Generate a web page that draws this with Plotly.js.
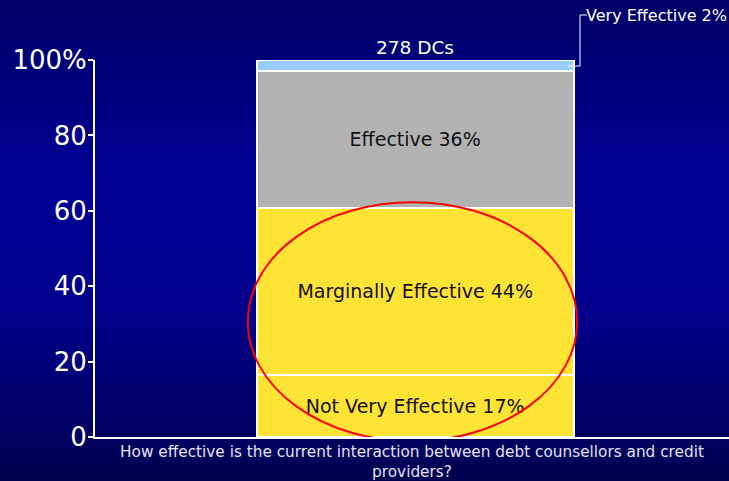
<!DOCTYPE html>
<html>
<head>
<meta charset="utf-8">
<script src="https://cdn.plot.ly/plotly-3.0.1.min.js"></script>
<style>
html,body{margin:0;padding:0;}
body{width:729px;height:481px;background:linear-gradient(to bottom,#000068 0%,#000096 38%,#00008c 65%,#000050 100%);overflow:hidden;}
#chart{width:729px;height:481px;}
</style>
</head>
<body>
<div id="chart"></div>
<script>
const category = ['All'];
const segments = ['Not Very Effective', 'Marginally Effective', 'Effective', 'Very Effective'];
const values = [16.5, 44.3, 36.3, 2.9];
const pctLabels = [17, 44, 36, 2];
const colors = ['#FFE335', '#FFE335', '#B2B2B2', '#99CCFF'];
const totalLabel = '278 DCs';
const xTitle = 'How effective is the current interaction between debt counsellors and credit<br>providers?';
const yTickVals = [0, 20, 40, 60, 80, 100];
const yTickText = ['0', '20', '40', '60', '80', '100%'];

const traces = segments.map((s, i) => ({
  type: 'bar',
  x: [0],
  y: [values[i]],
  name: s,
  width: [1],
  marker: {color: colors[i], line: {color: '#ffffff', width: 2}},
  text: i < 3 ? [s + ' ' + pctLabels[i] + '%'] : [''],
  textposition: 'inside',
  insidetextanchor: 'middle',
  textangle: 0,
  textfont: {family: 'DejaVu Sans, Verdana, sans-serif', size: 19, color: '#111111'},
  hoverinfo: 'skip',
  cliponaxis: false
}));

const layout = {
  width: 729, height: 481,
  barmode: 'stack',
  showlegend: false,
  paper_bgcolor: 'rgba(0,0,0,0)',
  plot_bgcolor: 'rgba(0,0,0,0)',
  margin: {l: 95, r: 0, t: 60, b: 44},
  font: {family: 'DejaVu Sans, Verdana, sans-serif', color: '#ffffff'},
  xaxis: {
    range: [-1.01, 0.99], showticklabels: false, ticks: '', showgrid: false, zeroline: false,
    showline: true, linecolor: '#ffffff', linewidth: 2, fixedrange: true,
    title: {text: xTitle, standoff: 9, font: {size: 15.3, color: '#e4e4f4', family: 'DejaVu Sans, Verdana, sans-serif'}}
  },
  yaxis: {
    range: [0, 100], tickvals: yTickVals, ticktext: yTickText, ticks: 'outside', ticklen: 5,
    tickwidth: 2, tickcolor: '#ffffff', showgrid: false, zeroline: false,
    showline: true, linecolor: '#ffffff', linewidth: 2, ticklabelstandoff: -4,
    tickfont: {size: 26, color: '#ffffff', family: 'DejaVu Sans, Verdana, sans-serif'}
  },
  annotations: [
    {x: 0, y: 100, xref: 'x', yref: 'y', text: totalLabel, showarrow: false, yanchor: 'bottom', yshift: 0,
     font: {size: 18.5, color: '#ffffff'}},
    {x: 1.0, y: 1.0, xref: 'paper', yref: 'paper', xanchor: 'right', yanchor: 'middle', yshift: 45,
     text: segments[3] + ' ' + pctLabels[3] + '%', showarrow: false, font: {size: 16, color: '#ffffff'}, xshift: 0}
  ],
  shapes: [
    {type: 'path', xref: 'paper', yref: 'paper', path: '', line: {color: '#ffffff', width: 1}},
    {type: 'circle', xref: 'x', yref: 'y', x0: -0.528, x1: 0.511, y0: -1.1, y1: 62.3,
     line: {color: '#ff0000', width: 2}, layer: 'above'}
  ]
};

// connector from Very Effective segment to its label (paper coords)
const pw = 729 - 95, ph = 481 - 60 - 44;
function px(x){ return (x - 95) / pw; }
function py(y){ return (481 - 44 - y) / ph; }
layout.shapes[0].path = 'M ' + px(568) + ' ' + py(66) + ' L ' + px(580) + ' ' + py(66) +
  ' L ' + px(580) + ' ' + py(15) + ' L ' + px(587) + ' ' + py(15);

Plotly.newPlot('chart', traces, layout, {displayModeBar: false, staticPlot: true});
</script>
</body>
</html>
